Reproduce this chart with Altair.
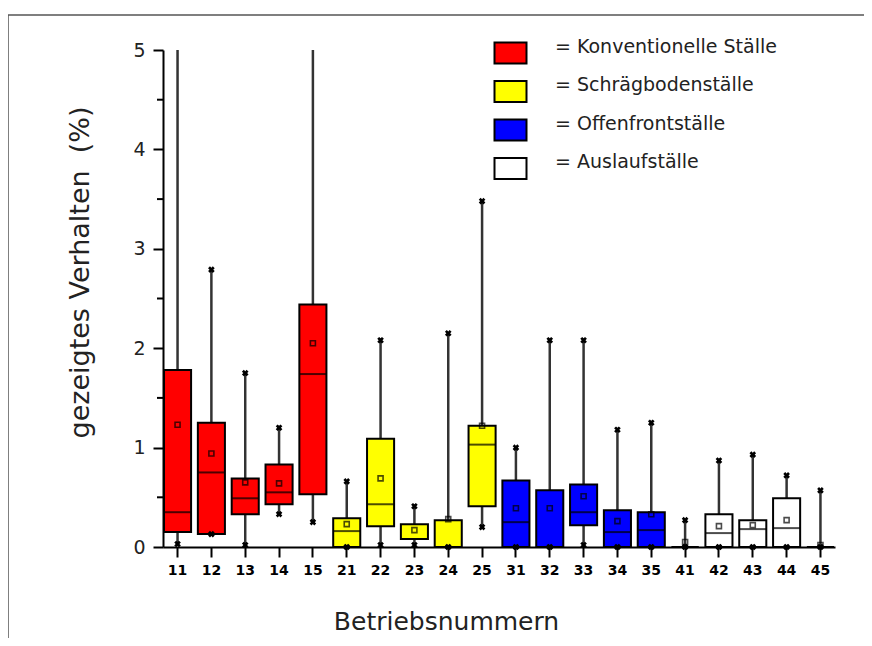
import altair as alt
import pandas as pd

farms = ["11", "12", "13", "14", "15", "21", "22", "23", "24", "25",
         "31", "32", "33", "34", "35", "41", "42", "43", "44", "45"]
group_names = ["Konventionelle Ställe", "Schrägbodenställe", "Offenfrontställe", "Auslaufställe"]
group_colors = ["#ff0000", "#ffff00", "#0000ff", "#ffffff"]
groups = [group_names[0]] * 5 + [group_names[1]] * 5 + [group_names[2]] * 5 + [group_names[3]] * 5

q1 = [0.15, 0.13, 0.33, 0.43, 0.53, 0.00, 0.21, 0.08, 0.00, 0.41,
      0.00, 0.00, 0.22, 0.00, 0.00, 0.00, 0.00, 0.00, 0.00, 0.00]
q3 = [1.78, 1.25, 0.69, 0.83, 2.44, 0.29, 1.09, 0.23, 0.27, 1.22,
      0.67, 0.57, 0.63, 0.37, 0.35, 0.00, 0.33, 0.27, 0.49, 0.00]
median = [0.35, 0.75, 0.49, 0.55, 1.74, 0.16, 0.43, 0.08, 0.00, 1.03,
          0.25, 0.00, 0.35, 0.15, 0.17, 0.00, 0.14, 0.18, 0.19, 0.00]
mean = [1.23, 0.94, 0.65, 0.64, 2.05, 0.23, 0.69, 0.17, 0.28, 1.22,
        0.39, 0.39, 0.51, 0.26, 0.33, 0.05, 0.21, 0.22, 0.27, 0.02]
wmin = [0.03, 0.13, 0.02, 0.33, 0.25, 0.00, 0.02, 0.02, 0.00, 0.20,
        0.00, 0.00, 0.02, 0.00, 0.00, 0.00, 0.00, 0.00, 0.00, 0.00]
wmax = [5.00, 2.79, 1.75, 1.20, 5.00, 0.66, 2.08, 0.41, 2.15, 3.48,
        1.00, 2.08, 2.08, 1.18, 1.25, 0.27, 0.87, 0.93, 0.72, 0.57]
minor_ticks = [0.5, 1.5, 2.5, 3.5, 4.5]

YTITLE = "gezeigtes Verhalten \u00a0(%)"
XTITLE = "Betriebsnummern"
FONT = "DejaVu Sans"

df = pd.DataFrame({"farm": farms, "group": groups, "q1": q1, "q3": q3,
                   "median": median, "mean": mean, "wmin": wmin, "wmax": wmax})

caps = pd.concat([
    pd.DataFrame({"farm": farms, "v": wmin}),
    pd.DataFrame({"farm": farms, "v": wmax}),
])
caps = caps[caps["v"] < 5]

xscale = alt.Scale(domain=farms, paddingInner=0.2, paddingOuter=0.03)
yscale = alt.Scale(domain=[0, 5], nice=False, zero=True)

x_axis = alt.Axis(title=XTITLE, domainColor="black", domainWidth=2, tickColor="black",
                  tickWidth=2, tickSize=10, labelFont=FONT, labelFontSize=14,
                  labelFontWeight="bold", labelColor="black", labelPadding=6, labelAngle=0,
                  titleFont=FONT, titleFontSize=25, titleFontWeight="normal",
                  titleColor="#222", titleX=283, titleY=82, titleBaseline="alphabetic",
                  titleAlign="center", titleAnchor="start", grid=False)
y_axis = alt.Axis(title=YTITLE, values=[0, 1, 2, 3, 4, 5], domainColor="black", domainWidth=2,
                  tickColor="black", tickWidth=2, tickSize=10, labelFont=FONT,
                  labelFontSize=19, labelColor="#222", labelPadding=8,
                  titleFont=FONT, titleFontSize=27, titleFontWeight="normal",
                  titleColor="#222", titleX=-83, titleY=222, titleBaseline="middle",
                  titleAlign="center", titleAngle=270, grid=False)


def X():
    return alt.X("farm:N", scale=xscale, axis=x_axis, sort=farms, title=XTITLE)


def Y(field):
    return alt.Y(field, scale=yscale, axis=y_axis, title=YTITLE)


base = alt.Chart(df)

frame = alt.Chart(pd.DataFrame({"a": [0]})).mark_rect(
    filled=False, stroke="#555", strokeWidth=1.5
).encode(x=alt.value(-155), x2=alt.value(900), y=alt.value(-35), y2=alt.value(800))

whiskers = base.mark_rule(color="#333", strokeWidth=2.5).encode(
    x=X(), y=Y("wmin:Q"), y2="wmax:Q",
)

boxes = base.mark_bar(stroke="black", strokeWidth=2).encode(
    x=X(), y=Y("q1:Q"), y2="q3:Q",
    fill=alt.Fill("group:N", scale=alt.Scale(domain=group_names, range=group_colors),
                  legend=alt.Legend(title=None, orient="none", legendX=338, legendY=-13,
                                    symbolType="M-2,-0.5L2,-0.5L2,2.125L-2,2.125Z",
                                    symbolSize=256, symbolStrokeColor="black",
                                    symbolStrokeWidth=2, symbolOpacity=1,
                                    labelExpr="'= ' + datum.label", labelFont=FONT,
                                    labelFontSize=19, labelColor="#222", labelOffset=35,
                                    rowPadding=7.5, padding=0, labelLimit=400)),
)

medians = base.mark_tick(color="black", thickness=2, size=27).encode(
    x=X(), y=Y("median:Q"),
)

means = base.mark_square(size=25, filled=False, color="black", strokeWidth=1.6).encode(
    x=X(), y=Y("mean:Q"),
)

capmarks = alt.Chart(caps).mark_point(shape="cross", angle=45, filled=True, color="black",
                                      size=45, opacity=1).encode(
    x=X(), y=Y("v:Q"),
)

minors = alt.Chart(pd.DataFrame({"m": minor_ticks})).mark_rule(color="black", strokeWidth=2).encode(
    y=Y("m:Q"),
    x=alt.value(-6), x2=alt.value(0),
)

chart = alt.layer(frame, whiskers, boxes, medians, means, capmarks, minors).properties(
    width=672, height=497,
    autosize=alt.AutoSizeParams(type="none"),
    padding={"left": 155, "top": 42, "right": 29, "bottom": 91},
).configure_view(stroke=None)

chart.save("out.html", embed_options={"renderer": "svg", "actions": False})
